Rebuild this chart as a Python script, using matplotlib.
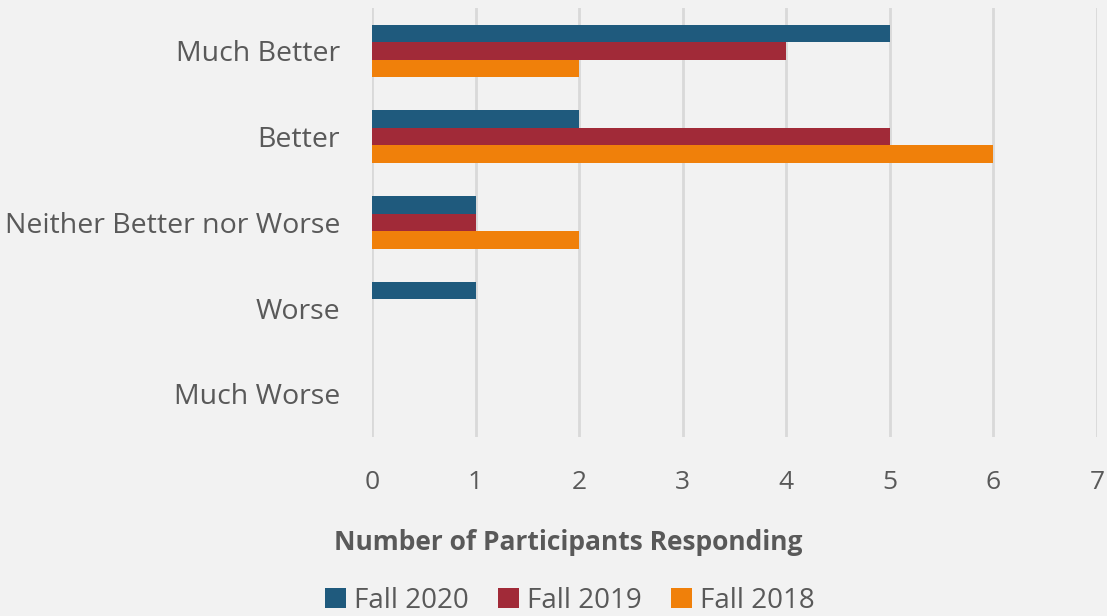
import matplotlib.pyplot as plt
import numpy as np

plt.rcParams.update({'font.family': ['Open Sans', 'DejaVu Sans']})

categories = ['Much Better', 'Better', 'Neither Better nor Worse', 'Worse', 'Much Worse']
fall_2020 = [5, 2, 1, 1, 0]
fall_2019 = [4, 5, 1, 0, 0]
fall_2018 = [2, 6, 2, 0, 0]
series = [('Fall 2020', fall_2020, '#1f5a7d'),
          ('Fall 2019', fall_2019, '#a12a38'),
          ('Fall 2018', fall_2018, '#f0800a')]

BG = '#f2f2f2'
TXT = '#595959'

fig = plt.figure(figsize=(11.07, 6.16), dpi=100, facecolor=BG)
ax = fig.add_axes([0.336, 0.291, 0.655, 0.696], facecolor=BG)

y = np.arange(len(categories))
h = 0.205
for i, (name, vals, col) in enumerate(series):
    ax.barh(y + (i - 1) * h, vals, height=h, color=col, label=name,
            lw=0, zorder=3)

ax.set_ylim(4.5, -0.5)
ax.set_xlim(0, 7)
ax.set_xticks(range(8))
ax.set_yticks(y)
ax.set_yticklabels(categories, fontsize=20.5, color=TXT)
ax.tick_params(axis='x', labelsize=19, labelcolor=TXT, length=0, pad=24)
ax.tick_params(axis='y', length=0, pad=23)
ax.grid(axis='x', color='#d9d9d9', lw=2, zorder=0)
for s in ax.spines.values():
    s.set_visible(False)

fig.text(0.513, 1 - 543 / 616, 'Number of Participants Responding', fontsize=19,
         fontweight='bold', color=TXT, ha='center', va='center')

fig.legend(*ax.get_legend_handles_labels(), loc='center',
           bbox_to_anchor=(0.515, 1 - 601 / 616), ncol=3, frameon=False,
           fontsize=20, labelcolor=TXT, handlelength=0.75, handleheight=0.75,
           handletextpad=0.3, columnspacing=1.05, borderpad=0)

fig.savefig('out.png', dpi=100, facecolor=BG)
